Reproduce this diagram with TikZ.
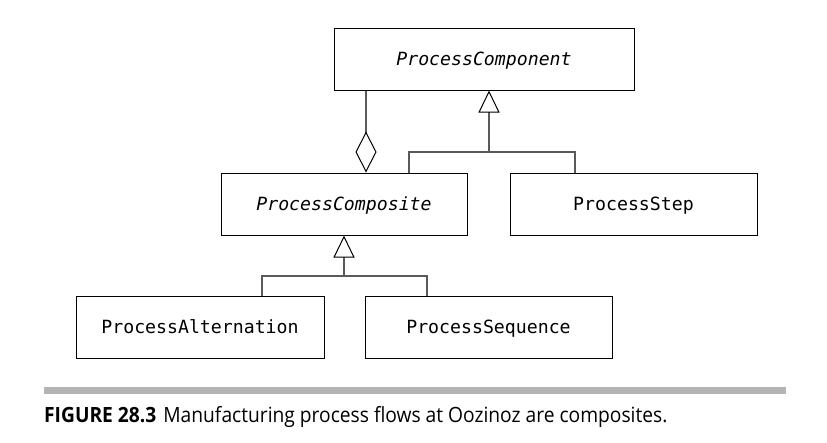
\documentclass[tikz,border=0pt]{standalone}
\usepackage{fontspec}
\setmonofont{DejaVu Sans Mono}
\newfontfamily\capfont[FakeStretch=0.915]{Open Sans}
\usetikzlibrary{arrows.meta}
\definecolor{conn}{RGB}{90,90,90}
\definecolor{rule}{RGB}{180,180,180}
\begin{document}
\begin{tikzpicture}[x=1pt,y=-1pt,
  cls/.style={draw=black,line width=1.0pt,minimum height=62pt,inner sep=0pt,text depth=1pt,font=\ttfamily\fontsize{18.2}{20}\selectfont},
  link/.style={draw=conn,line width=1.3pt},
  gen/.style={link,{Triangle[open,width=21pt,length=22pt,fill=white,color=black,line width=1.0pt]}-},
  agg/.style={link,{Diamond[open,width=21pt,length=41pt,fill=white,color=black,line width=1.0pt]}-}]
\useasboundingbox (0,0) rectangle (827,442);
\node[cls,minimum width=300pt] (pc) at (484,59) {\itshape ProcessComponent};
\node[cls,minimum width=246pt] (comp) at (344,204) {\itshape ProcessComposite};
\node[cls,minimum width=247pt] (step) at (633.5,204) {ProcessStep};
\node[cls,minimum width=248pt] (alt) at (200,327) {ProcessAlternation};
\node[cls,minimum width=247pt] (seq) at (488.5,327) {ProcessSequence};
% generalization to ProcessComponent
\coordinate (j1) at (489,152);
\draw[gen] (pc.south -| j1) -- (j1);
\draw[link] (comp.north -| 409,0) |- (j1) -| (step.north -| 575,0);
% aggregation
\draw[agg] (comp.north -| 366,0) -- (pc.south -| 366,0);
% generalization to ProcessComposite
\coordinate (j2) at (344,276);
\draw[gen] (comp.south) -- (j2);
\draw[link] (alt.north -| 262,0) |- (j2) -| (seq.north -| 427,0);
% rule and caption
\fill[rule] (44,387) rectangle (786,394) coordinate (ruleend);
\node[anchor=base west,inner sep=0pt,font=\capfont\fontsize{21}{23}\selectfont] (cap) at (44,422) {\textbf{FIGURE 28.3}\hspace{7pt}Manufacturing process flows at Oozinoz are composites.};
\end{tikzpicture}
\end{document}
